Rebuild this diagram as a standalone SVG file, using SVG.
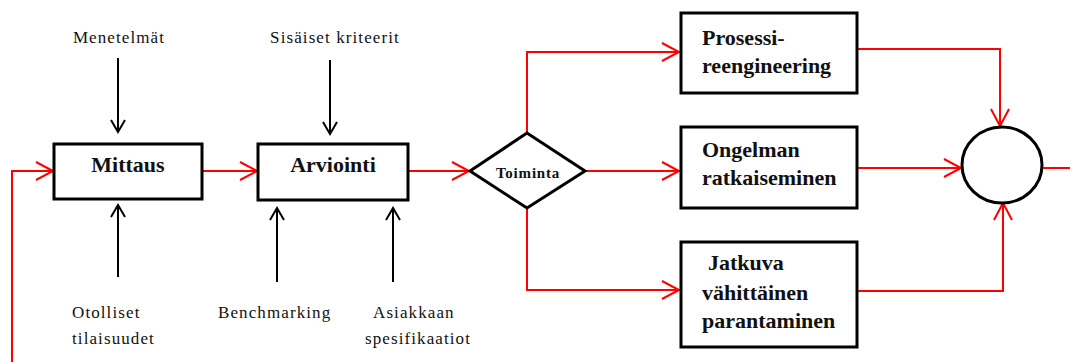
<svg xmlns="http://www.w3.org/2000/svg" width="1070" height="362" viewBox="0 0 1070 362">
  <style>
    .box { fill: #fff; stroke: #000; stroke-width: 3; }
    .flow { fill: none; stroke: #f00; stroke-width: 2; marker-end: url(#redArrow); }
    .flowPlain { fill: none; stroke: #f00; stroke-width: 2; }
    .input { fill: none; stroke: #000; stroke-width: 2; marker-end: url(#blackArrow); }
    text { font-family: "Liberation Serif", "Times New Roman", serif; fill: #111; }
    .title { font-weight: 700; font-size: 22px; }
    .label { font-size: 17px; letter-spacing: 1.1px; }
  </style>
  <defs>
    <marker id="redArrow" markerUnits="userSpaceOnUse" viewBox="-19 -11 21 22" refX="0" refY="0" markerWidth="21" markerHeight="22" orient="auto" overflow="visible">
      <path d="M-17,-9 L0,0 L-17,9" fill="none" stroke="#f00" stroke-width="2"/>
    </marker>
    <marker id="blackArrow" markerUnits="userSpaceOnUse" viewBox="-14 -9 16 18" refX="0" refY="0" markerWidth="16" markerHeight="18" orient="auto" overflow="visible">
      <path d="M-12,-7 L0,0 L-12,7" fill="none" stroke="#000" stroke-width="2"/>
    </marker>
  </defs>

  <!-- connectors -->
  <g id="connectors">
    <!-- feedback loop into measurement -->
    <path class="flow" d="M12,362 L12,171 L53,171"/>
    <path class="flow" d="M202,171 L257,171"/>
    <path class="flow" d="M408,171 L469,171"/>
    <!-- decision branches -->
    <path class="flow" d="M527,133 L527,52 L679,52"/>
    <path class="flow" d="M585,171 L679,171"/>
    <path class="flow" d="M527,208 L527,290 L679,290"/>
    <!-- merge into the summing circle -->
    <path class="flow" d="M857,49 L1000,49 L1000,126"/>
    <path class="flow" d="M857,168 L961,168"/>
    <path class="flow" d="M857,291 L1003,291 L1003,203"/>
    <path class="flowPlain" d="M1042,168 L1070,168"/>
    <!-- inputs -->
    <path class="input" d="M118,58 L118,132"/>
    <path class="input" d="M118,277 L118,205"/>
    <path class="input" d="M330,60 L330,134"/>
    <path class="input" d="M277,282 L277,208"/>
    <path class="input" d="M393,282 L393,208"/>
  </g>

  <g id="mittaus">
    <rect class="box" x="54" y="144" width="148" height="55"/>
    <text class="title" x="128" y="172" text-anchor="middle">Mittaus</text>
  </g>

  <g id="arviointi">
    <rect class="box" x="258" y="144" width="150" height="56"/>
    <text class="title" x="333" y="172" text-anchor="middle">Arviointi</text>
  </g>

  <g id="toiminta">
    <polygon class="box" points="470,171 527,133 585,171 527,208"/>
    <text class="title" x="528" y="178" text-anchor="middle" style="font-size:15px;letter-spacing:0.8px">Toiminta</text>
  </g>

  <g id="prosessi">
    <rect class="box" x="681" y="13" width="176" height="80"/>
    <text class="title" x="702" y="45">Prosessi-</text>
    <text class="title" x="702" y="73">reengineering</text>
  </g>

  <g id="ongelman">
    <rect class="box" x="681" y="127" width="176" height="81"/>
    <text class="title" x="702" y="157">Ongelman</text>
    <text class="title" x="702" y="185">ratkaiseminen</text>
  </g>

  <g id="jatkuva">
    <rect class="box" x="681" y="242" width="176" height="105"/>
    <text class="title" x="708" y="270">Jatkuva</text>
    <text class="title" x="702" y="300">vähittäinen</text>
    <text class="title" x="702" y="328">parantaminen</text>
  </g>

  <g id="yhdistys">
    <ellipse class="box" cx="1002" cy="165" rx="40" ry="38"/>
  </g>

  <g id="menetelmat">
    <text class="label" x="119" y="43" text-anchor="middle">Menetelmät</text>
  </g>
  <g id="sisaiset">
    <text class="label" x="335" y="43" text-anchor="middle">Sisäiset kriteerit</text>
  </g>
  <g id="otolliset">
    <text class="label" x="72" y="318">Otolliset</text>
    <text class="label" x="72" y="344">tilaisuudet</text>
  </g>
  <g id="benchmarking">
    <text class="label" x="218" y="318">Benchmarking</text>
  </g>
  <g id="asiakkaan">
    <text class="label" x="373" y="318">Asiakkaan</text>
    <text class="label" x="365" y="344">spesifikaatiot</text>
  </g>
</svg>
